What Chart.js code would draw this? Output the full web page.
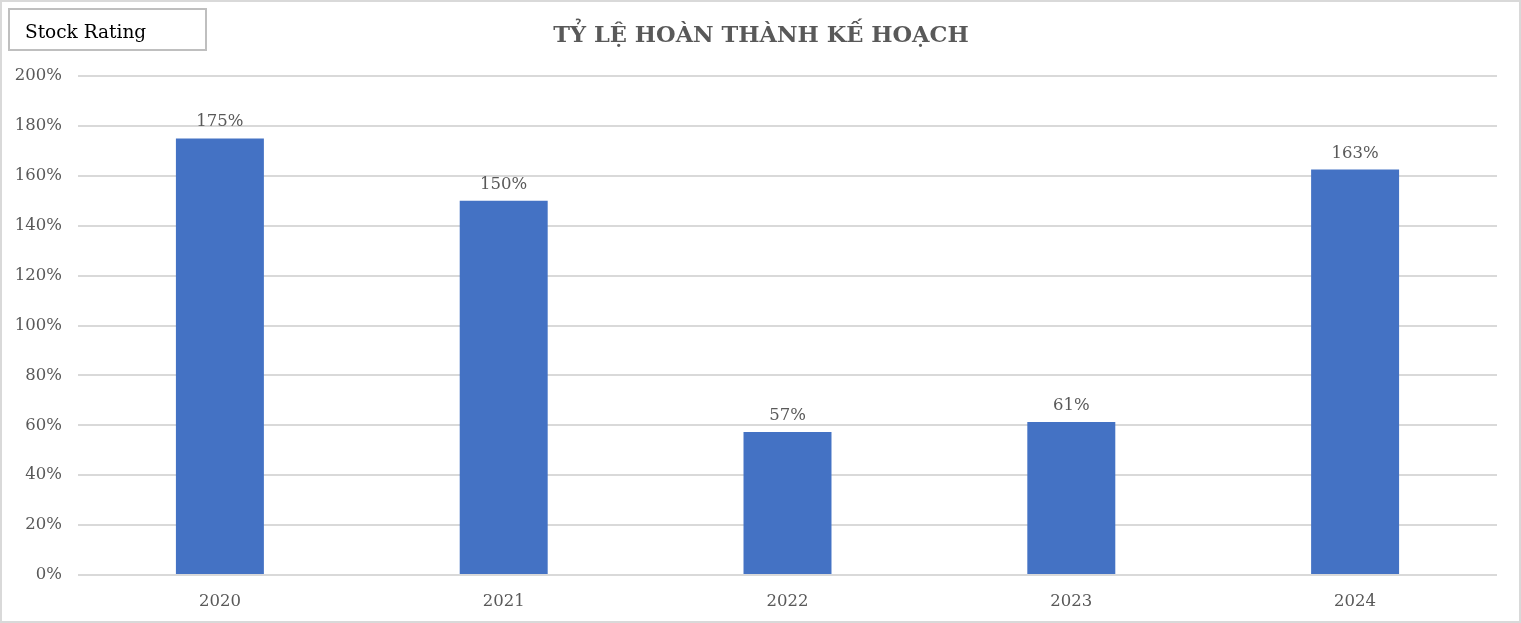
<!DOCTYPE html>
<html><head><meta charset="utf-8">
<script src="https://cdn.jsdelivr.net/npm/chart.js@4/dist/chart.umd.min.js"></script>
<style>html,body{margin:0;padding:0;background:#fff;overflow:hidden}canvas{display:block}</style>
</head><body>
<canvas id="c" width="1521" height="623"></canvas>
<script>
const categories = ['2020','2021','2022','2023','2024'];
const completionRate = [175, 150, 57.3, 61.3, 162.5];
const yTickMax = 200;
const yTickStep = 20;
const titleText = 'TỶ LỆ HOÀN THÀNH KẾ HOẠCH';
const boxText = 'Stock Rating';

const FONT = "'DejaVu Serif', serif";
const TXT = '#595959';

const decor = {
  id: 'decor',
  beforeDraw(chart) {
    const ctx = chart.ctx;
    ctx.save();
    ctx.fillStyle = '#fff';
    ctx.fillRect(0, 0, chart.width, chart.height);
    ctx.strokeStyle = '#d9d9d9';
    ctx.lineWidth = 2;
    ctx.strokeRect(1, 1, chart.width - 2, chart.height - 2);
    ctx.strokeStyle = '#bfbfbf';
    ctx.lineWidth = 2;
    ctx.strokeRect(9, 9, 197, 41);
    ctx.fillStyle = '#000';
    ctx.font = "18.5px " + FONT;
    ctx.textBaseline = 'middle';
    ctx.textAlign = 'left';
    ctx.fillText(boxText, 25, 33);
    ctx.fillStyle = TXT;
    ctx.font = "bold 22.5px " + FONT;
    ctx.textAlign = 'center';
    ctx.fillText(titleText, 761, 36);
    ctx.restore();
  },
  afterDatasetsDraw(chart) {
    const ctx = chart.ctx;
    const meta = chart.getDatasetMeta(0);
    ctx.save();
    ctx.fillStyle = TXT;
    ctx.font = "16.5px " + FONT;
    ctx.textAlign = 'center';
    ctx.textBaseline = 'bottom';
    meta.data.forEach((bar, i) => {
      ctx.fillText(Math.round(completionRate[i]) + '%', bar.x, bar.y - 8);
    });
    ctx.restore();
  }
};

new Chart(document.getElementById('c'), {
  type: 'bar',
  data: {
    labels: categories,
    datasets: [{
      data: completionRate,
      backgroundColor: '#4472C4',
      borderWidth: 0,
      categoryPercentage: 1,
      barPercentage: 0.31
    }]
  },
  options: {
    responsive: false,
    animation: false,
    devicePixelRatio: 1,
    layout: { padding: { top: 76, right: 24, left: 0, bottom: 0 } },
    plugins: { legend: { display: false }, tooltip: { enabled: false } },
    scales: {
      x: {
        grid: { display: false },
        border: { display: false },
        ticks: { color: TXT, font: { family: FONT, size: 16.5 }, padding: 9 },
        afterFit(s) { s.height = 48; }
      },
      y: {
        min: 0, max: yTickMax,
        grid: { color: '#d9d9d9', lineWidth: 2, drawTicks: false },
        border: { display: false },
        ticks: { stepSize: yTickStep, color: TXT, font: { family: FONT, size: 16.5 }, padding: 16,
          callback: v => v + '%' },
        afterFit(s) { s.width = 78; }
      }
    }
  },
  plugins: [decor]
});
</script>
</body></html>
